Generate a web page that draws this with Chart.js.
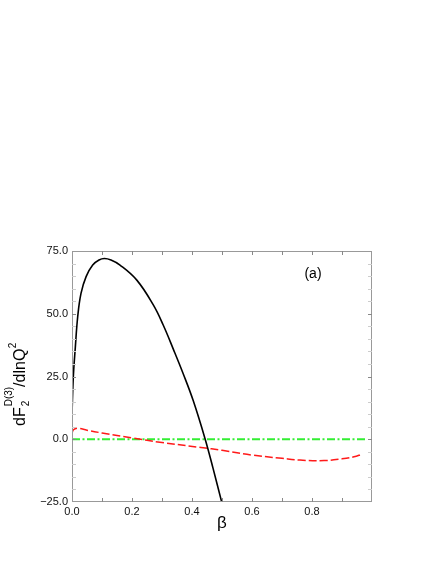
<!DOCTYPE html>
<html>
<head>
<meta charset="utf-8">
<script src="https://cdn.jsdelivr.net/npm/chart.js@4.4.1/dist/chart.umd.min.js"></script>
<style>
html,body{margin:0;padding:0;background:#fff;}
#wrap{width:436px;height:564px;position:relative;}
</style>
</head>
<body>
<div id="wrap"><canvas id="c" width="436" height="564"></canvas></div>
<script>
// Data
const betaBlack = [0, 0.0044, 0.011, 0.019, 0.03, 0.047, 0.069, 0.09, 0.108, 0.13, 0.16, 0.216, 0.271, 0.304, 0.338, 0.371, 0.404, 0.443, 0.47, 0.5];
const valBlack  = [10.3, 24.9, 36.5, 48.8, 58.1, 64.8, 69.4, 71.4, 72.0, 71.4, 69.4, 63.4, 53.5, 45.5, 35.8, 26.0, 15.4, 0.4, -11.5, -25.5];

const betaRed = [0, 0.005, 0.02, 0.05, 0.1, 0.2, 0.3, 0.43, 0.5, 0.6, 0.7, 0.76, 0.84, 0.9, 0.94, 0.966];
const valRed  = [2.3, 3.8, 4.4, 3.6, 2.5, 0.5, -1.3, -3.3, -4.4, -6.3, -7.6, -8.3, -8.5, -7.8, -7.0, -6.0];

const betaGreen = [0, 0.98];
const valGreen  = [0, 0];

const xTickValues = [0, 0.2, 0.4, 0.6, 0.8];
const yTickValues = [-25, 0, 25, 50, 75];

const pts = (xs, ys) => xs.map((x, i) => ({x: x, y: ys[i]}));

const FONT = "'Liberation Sans', Arial, Helvetica, sans-serif";

const decor = {
  id: 'decor',
  afterDraw(chart) {
    const ctx = chart.ctx;
    const xs = chart.scales.x, ys = chart.scales.y;
    const a = chart.chartArea;
    ctx.save();
    // frame
    ctx.strokeStyle = '#999';
    ctx.lineWidth = 1;
    ctx.strokeRect(a.left + 0.5, a.top + 0.5, a.right - a.left - 1, a.bottom - a.top - 1);
    // x ticks (inward), every 0.1
    ctx.strokeStyle = '#888';
    for (let i = 1; i < 10; i++) {
      const px = Math.round(xs.getPixelForValue(i / 10)) + 0.5;
      const len = 4;
      ctx.beginPath();
      ctx.moveTo(px, a.bottom); ctx.lineTo(px, a.bottom - len);
      ctx.moveTo(px, a.top); ctx.lineTo(px, a.top + len);
      ctx.stroke();
    }
    // y ticks (inward), every 5
    for (let v = -20; v < 75; v += 5) {
      const py = Math.round(ys.getPixelForValue(v)) + 0.5;
      const len = 4;
      ctx.strokeStyle = (v % 25 === 0) ? '#888' : '#ccc';
      ctx.beginPath();
      ctx.moveTo(a.left, py); ctx.lineTo(a.left + len, py);
      ctx.moveTo(a.right, py); ctx.lineTo(a.right - len, py);
      ctx.stroke();
    }
    // (a) label
    ctx.fillStyle = '#000';
    ctx.font = '14px ' + FONT;
    ctx.textAlign = 'center';
    ctx.textBaseline = 'middle';
    ctx.fillText('(a)', 313, 274);
    // x axis title
    ctx.font = '17px ' + FONT;
    ctx.fillText('\u03b2', 222, 523);
    // y axis title, rotated
    ctx.translate(25, 426);
    ctx.rotate(-Math.PI / 2);
    ctx.textAlign = 'left';
    ctx.textBaseline = 'alphabetic';
    let x = 0;
    const big = '16px ' + FONT, small = '10px ' + FONT;
    ctx.font = big; ctx.fillText('dF', x, 0); x += ctx.measureText('dF').width;
    ctx.font = small;
    ctx.fillText('2', x + 1, 4);
    ctx.fillText('D(3)', x + 1, -13);
    x += ctx.measureText('D(3)').width + 1;
    ctx.font = big; ctx.fillText('/dlnQ', x, 0); x += ctx.measureText('/dlnQ').width;
    ctx.font = small; ctx.fillText('2', x + 0.5, -9);
    ctx.restore();
  }
};

new Chart(document.getElementById('c'), {
  type: 'line',
  data: {
    datasets: [
      {
        data: pts(betaBlack, valBlack),
        borderColor: '#000', borderWidth: 1.6, tension: 0.4,
        pointRadius: 0, fill: false
      },
      {
        data: pts(betaRed, valRed),
        borderColor: '#ff1a1a', borderWidth: 1.5, borderDash: [8, 3], tension: 0.4,
        pointRadius: 0, fill: false
      },
      {
        data: pts(betaGreen, valGreen),
        borderColor: '#33ee33', borderWidth: 2, borderDash: [8, 2.5, 2, 2.5],
        pointRadius: 0, fill: false
      }
    ]
  },
  options: {
    responsive: false,
    animation: false,
    clip: true,
    layout: { padding: { left: 0, top: 251, right: 64, bottom: 0 } },
    plugins: { legend: { display: false }, tooltip: { enabled: false } },
    scales: {
      x: {
        type: 'linear', min: 0, max: 1.0,
        afterFit(s) { s.height = 62; },
        afterBuildTicks(s) { s.ticks = xTickValues.map(v => ({value: v})); },
        grid: { display: false, drawTicks: false },
        border: { display: false },
        ticks: {
          color: '#111', padding: 3,
          font: { family: FONT, size: 11 },
          callback: v => Number(v).toFixed(1)
        }
      },
      y: {
        type: 'linear', min: -25, max: 75,
        afterFit(s) { s.width = 72; },
        afterBuildTicks(s) { s.ticks = yTickValues.map(v => ({value: v})); },
        grid: { display: false, drawTicks: false },
        border: { display: false },
        ticks: {
          color: '#111', padding: 4,
          font: { family: FONT, size: 11 },
          callback: v => (v < 0 ? '\u2212' + Math.abs(v).toFixed(1) : Number(v).toFixed(1))
        }
      }
    }
  },
  plugins: [decor]
});
</script>
</body>
</html>
